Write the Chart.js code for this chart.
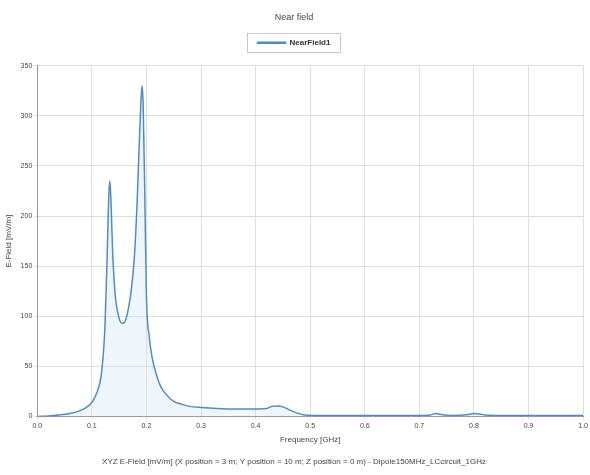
<!DOCTYPE html>
<html>
<head>
<meta charset="utf-8">
<script src="https://cdn.jsdelivr.net/npm/chart.js@4.4.0/dist/chart.umd.min.js"></script>
<style>
  html, body { margin: 0; padding: 0; background: #fff; }
  #wrap { width: 590px; height: 475px; }
</style>
</head>
<body>
<div id="wrap"><canvas id="near-field-chart" width="590" height="475"></canvas></div>
<script>
// frequency in GHz, E-field in mV/m
const freq = [0, 0.02, 0.04, 0.06, 0.075, 0.09, 0.10, 0.11, 0.118, 0.124, 0.128, 0.131, 0.133, 0.135, 0.138,
  0.143, 0.149, 0.155, 0.16, 0.166, 0.172, 0.178, 0.183, 0.187, 0.19, 0.192, 0.194, 0.197, 0.2, 0.205,
  0.21, 0.218, 0.226, 0.236, 0.25, 0.265, 0.28, 0.3, 0.33, 0.36, 0.39, 0.42, 0.43, 0.44, 0.45, 0.46,
  0.475, 0.49, 0.51, 0.55, 0.6, 0.65, 0.7, 0.72, 0.73, 0.74, 0.76, 0.78, 0.79, 0.8, 0.81, 0.82, 0.85,
  0.9, 0.95, 1.0];
const efield = [0, 0.5, 1.5, 3, 5, 9, 14, 25, 45, 90, 160, 220, 235, 215, 165,
  120, 100, 93, 94, 105, 125, 160, 215, 275, 315, 330, 310, 220, 120, 80,
  60, 42, 30, 22, 15, 12, 10, 9, 8, 7.5, 7.5, 8, 10, 10.5, 9.5, 7,
  3.5, 1.5, 1, 1, 1, 1, 1, 1.5, 3, 2, 1, 1.5, 2, 3, 2.5, 1.5, 1,
  1, 1, 1];
const xTicks = [0, 0.1, 0.2, 0.3, 0.4, 0.5, 0.6, 0.7, 0.8, 0.9, 1.0];
const yTicks = [0, 50, 100, 150, 200, 250, 300, 350];

const points = freq.map((f, i) => ({ x: f, y: efield[i] }));

// draws the thin frame round the legend item like the original,
// and leaves a bit more room under the legend
const legendFrame = {
  id: 'legendFrame',
  beforeLayout(chart) {
    const lg = chart.legend;
    if (lg && !lg._patched) {
      const fit = lg.fit;
      lg.fit = function () { fit.call(this); this.height += 9; };
      lg._patched = true;
    }
  },
  afterDraw(chart) {
    const lg = chart.legend;
    if (!lg || !lg.legendHitBoxes || !lg.legendHitBoxes.length) return;
    const hb = lg.legendHitBoxes[0];
    const ctx = chart.ctx;
    ctx.save();
    ctx.strokeStyle = '#c8c8c8';
    ctx.lineWidth = 1;
    ctx.strokeRect(Math.round(hb.left - 11) + 0.5, Math.round(hb.top - 6) + 0.5,
      Math.round(hb.width + 20), Math.round(hb.height + 11));
    ctx.restore();
  }
};

new Chart(document.querySelector('#near-field-chart').getContext('2d'), {
  type: 'line',
  data: {
    datasets: [{
      label: 'NearField1',
      data: points,
      borderColor: '#4f8cc4',
      backgroundColor: 'rgba(205, 228, 247, 0.35)',
      fill: true,
      borderWidth: 1.5,
      pointRadius: 0,
      cubicInterpolationMode: 'monotone'
    }]
  },
  options: {
    responsive: false,
    animation: false,
    layout: { padding: { left: 4, right: 6, top: 4, bottom: 2 } },
    plugins: {
      title: {
        display: true,
        text: 'Near field',
        color: '#444',
        font: { family: 'Liberation Sans', size: 9, weight: 'normal' },
        padding: { top: 8, bottom: 4 }
      },
      subtitle: {
        display: true,
        position: 'bottom',
        text: 'XYZ E-Field [mV/m] (X position = 3 m; Y position = 10 m; Z position = 0 m) - Dipole150MHz_LCcircuit_1GHz',
        color: '#444',
        font: { family: 'Liberation Sans', size: 8 },
        padding: { top: 13, bottom: 6 }
      },
      legend: {
        display: true,
        labels: {
          color: '#333',
          font: { family: 'Liberation Sans', size: 8, weight: 'bold' },
          boxWidth: 28,
          boxHeight: 1,
          padding: 12
        }
      },
      tooltip: { enabled: false }
    },
    scales: {
      x: {
        type: 'linear',
        min: 0,
        max: 1,
        afterBuildTicks: axis => { axis.ticks = xTicks.map(v => ({ value: v })); },
        ticks: {
          callback: v => v.toFixed(1),
          color: '#444',
          font: { family: 'Liberation Sans', size: 7 },
          maxRotation: 0,
          padding: 2
        },
        grid: { color: '#dedede', tickLength: 3 },
        border: { color: '#999' },
        title: {
          display: true,
          text: 'Frequency [GHz]',
          color: '#444',
          font: { family: 'Liberation Sans', size: 8 },
          padding: { top: 3, bottom: 0 }
        }
      },
      y: {
        min: 0,
        max: 350,
        afterBuildTicks: axis => { axis.ticks = yTicks.map(v => ({ value: v })); },
        ticks: {
          color: '#444',
          font: { family: 'Liberation Sans', size: 7 },
          padding: 2
        },
        grid: { color: '#dedede', tickLength: 3 },
        border: { color: '#999' },
        title: {
          display: true,
          text: 'E-Field [mV/m]',
          color: '#444',
          font: { family: 'Liberation Sans', size: 8 },
          padding: { top: 0, bottom: 5 }
        }
      }
    }
  },
  plugins: [legendFrame]
});
</script>
</body>
</html>
